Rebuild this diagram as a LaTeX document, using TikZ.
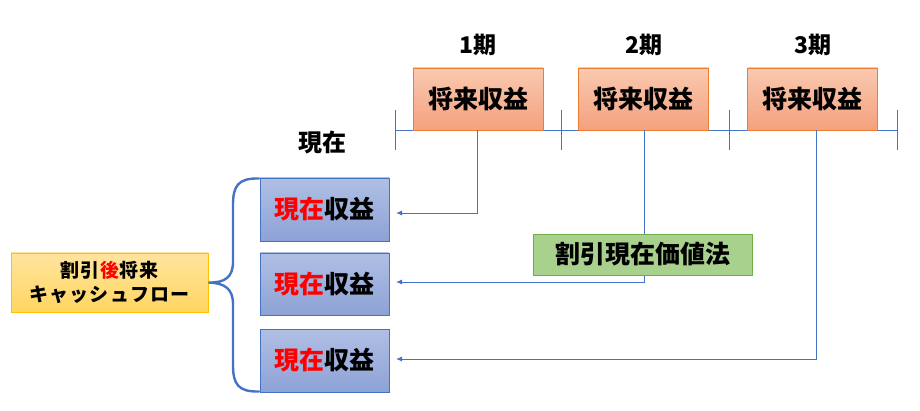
\documentclass[tikz,border=0pt]{standalone}
\usepackage{fontspec}
\newfontfamily\jp{Noto Sans CJK JP}
\newfontfamily\jpls{Noto Sans CJK JP}[LetterSpace=6]
\usetikzlibrary{arrows.meta,calc}
\definecolor{lineblue}{HTML}{4472C4}
\definecolor{orbord}{HTML}{ED7D31}
\definecolor{ortop}{HTML}{F9C9B0}
\definecolor{orbot}{HTML}{F4A17E}
\definecolor{bltop}{HTML}{B0BFE4}
\definecolor{blbot}{HTML}{8DA2D6}
\definecolor{grfill}{HTML}{A9D18E}
\definecolor{grbord}{HTML}{70AD47}
\definecolor{yetop}{HTML}{FFE49E}
\definecolor{yebot}{HTML}{FFD561}
\definecolor{yebord}{HTML}{FFC000}
\definecolor{jred}{HTML}{FF0000}
\tikzset{
  every node/.style={font=\jp\bfseries, inner sep=0pt},
  futbox/.style={draw=orbord, line width=0.8pt, top color=ortop, bottom color=orbot,
    minimum width=130pt, minimum height=62pt, font=\jp\bfseries\fontsize{25}{28}\selectfont},
  prbox/.style={draw=lineblue, line width=0.8pt, top color=bltop, bottom color=blbot,
    minimum width=129pt, font=\jp\bfseries\fontsize{25}{28}\selectfont},
  period/.style={font=\jp\bfseries\fontsize{23}{26}\selectfont},
  conn/.style={draw=lineblue, line width=0.9pt},
  arr/.style={conn, -{Latex[length=6pt,width=5pt]}},
}
\begin{document}
\begin{tikzpicture}[x=1pt,y=-1pt]
\useasboundingbox (0,0) rectangle (920,411);
% timeline
\coordinate (t0) at (395,130);
\coordinate (t1) at (561,130);
\coordinate (t2) at (729,130);
\coordinate (t3) at (897,130);
\draw[conn] (t0) -- (t3);
\foreach \t in {t0,t1,t2,t3} \draw[conn] ($(\t)+(0,-20)$) -- ($(\t)+(0,20)$);
% period labels
\node[period] (p1) at (478,45) {1期};
\node[period] (p2) at (643.5,45) {2期};
\node[period] (p3) at (812.5,45) {3期};
% future income boxes
\node[futbox] (o1) at (478,99) {将来収益};
\node[futbox] (o2) at (643.5,99) {将来収益};
\node[futbox] (o3) at (812.5,99) {将来収益};
% present label
\node[period, font=\jp\bfseries\fontsize{24}{26}\selectfont] (now) at (322,142) {現在};
% present value boxes
\node[prbox, minimum height=63pt] (b1) at (324.5,209.5) {\textcolor{jred}{現在}収益};
\node[prbox, minimum height=62pt] (b2) at (324.5,284) {\textcolor{jred}{現在}収益};
\node[prbox, minimum height=63pt] (b3) at (324.5,360.5) {\textcolor{jred}{現在}収益};
% arrow ends
\coordinate (a1) at (396,213);
\coordinate (a2) at (396,282);
\coordinate (a3) at (396,359);
\draw[arr] (o1.south -| 477,0) |- (a1);
\draw[arr] (o2.south -| 644,0) |- (a2);
\draw[arr] (o3.south -| 816,0) |- (a3);
% method label
\node[draw=grbord, line width=0.8pt, fill=grfill, minimum width=219pt, minimum height=41pt,
  font=\jp\bfseries\fontsize{25}{28}\selectfont] (m) at (642.5,254.5) {割引現在価値法};
% discounted future cash flow
\node[draw=yebord, line width=0.8pt, top color=yetop, bottom color=yebot,
  minimum width=197pt, minimum height=59pt, align=center,
  font=\jpls\bfseries\fontsize{19}{24}\selectfont] (y) at (109.5,282.5)
  {割引\textcolor{jred}{後}将来\\キャッシュフロー};
% brace
\coordinate (bt) at (259,178.5);
\coordinate (bb) at (259,391.5);
\draw[draw=lineblue, line width=2.4pt, line cap=round]
  (bt) .. controls (238,178) and (233,186) .. (233,205)
  -- (233,262) .. controls (233,277) and (225,283) .. (y.east)
  .. controls (225,283) and (233,289) .. (233,304)
  -- (233,365) .. controls (233,384) and (238,392) .. (bb);
\end{tikzpicture}
\end{document}
